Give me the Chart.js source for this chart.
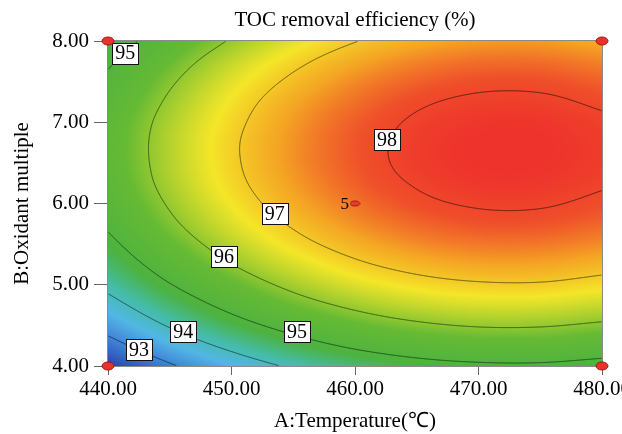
<!DOCTYPE html>
<html><head><meta charset="utf-8">
<script src="https://cdn.jsdelivr.net/npm/chart.js@4"></script>
<style>html,body{margin:0;padding:0;background:#fff}</style>
</head><body>
<canvas id="c" width="622" height="434" style="width:622px;height:434px"></canvas>
<script>
// ---- data ----
const chartTitle = 'TOC removal efficiency (%)';
const temperature = [440, 445, 450, 455, 460, 465, 470, 475, 480];          // A (°C)
const oxidant = [4.00, 4.25, 4.50, 4.75, 5.00, 5.25, 5.50, 5.75, 6.00,
                 6.25, 6.50, 6.75, 7.00, 7.25, 7.50, 7.75, 8.00];           // B
// TOC removal efficiency (%), one row per oxidant value, columns follow temperature
const tocRows = [
  [92.13, 92.91, 93.57, 94.10, 94.49, 94.76, 94.89, 94.90, 94.77],
  [92.73, 93.52, 94.17, 94.70, 95.10, 95.36, 95.49, 95.50, 95.37],
  [93.27, 94.06, 94.72, 95.24, 95.64, 95.90, 96.04, 96.04, 95.91],
  [93.75, 94.54, 95.20, 95.73, 96.12, 96.39, 96.52, 96.52, 96.39],
  [94.18, 94.97, 95.62, 96.15, 96.55, 96.81, 96.94, 96.95, 96.82],
  [94.54, 95.33, 95.99, 96.51, 96.91, 97.17, 97.31, 97.31, 97.18],
  [94.84, 95.63, 96.29, 96.82, 97.21, 97.48, 97.61, 97.61, 97.49],
  [95.09, 95.88, 96.54, 97.06, 97.46, 97.72, 97.86, 97.86, 97.73],
  [95.27, 96.06, 96.72, 97.25, 97.64, 97.91, 98.04, 98.04, 97.91],
  [95.40, 96.19, 96.85, 97.37, 97.77, 98.03, 98.17, 98.17, 98.04],
  [95.46, 96.25, 96.91, 97.44, 97.83, 98.10, 98.23, 98.23, 98.11],
  [95.47, 96.26, 96.92, 97.44, 97.84, 98.10, 98.24, 98.24, 98.11],
  [95.42, 96.21, 96.86, 97.39, 97.79, 98.05, 98.18, 98.19, 98.06],
  [95.30, 96.09, 96.75, 97.28, 97.67, 97.94, 98.07, 98.07, 97.94],
  [95.13, 95.92, 96.58, 97.10, 97.50, 97.76, 97.90, 97.90, 97.77],
  [94.90, 95.69, 96.35, 96.87, 97.27, 97.53, 97.67, 97.67, 97.54],
  [94.61, 95.40, 96.05, 96.58, 96.98, 97.24, 97.37, 97.38, 97.25]
];
const contourLevels = [93, 94, 95, 96, 97, 98];
const labelText = ['93', '94', '95', '95', '96', '97', '98'];
const labelA = [442.5, 446.1, 455.3, 441.4, 449.4, 453.5, 462.6];
const labelB = [4.20, 4.42, 4.42, 7.85, 5.35, 5.88, 6.79];
const designA = [440, 440, 480, 480];
const designB = [4.00, 8.00, 4.00, 8.00];
const centerA = [460];
const centerB = [6.00];
const centerReps = ['5'];
const xTicks = [440, 450, 460, 470, 480];
const yTicks = [4, 5, 6, 7, 8];
const xTitle = 'A:Temperature(\u2103)';
const yTitle = 'B:Oxidant multiple';

// ---- rendering helpers ----
const SERIF = '"Liberation Serif", "Times New Roman", serif';
const nx = temperature.length, ny = oxidant.length;
function g(j, i) {
  if (j < 0) return 2 * g(0, i) - g(1, i);
  if (j >= ny) return 2 * g(ny - 1, i) - g(ny - 2, i);
  if (i < 0) return 2 * g(j, 0) - g(j, 1);
  if (i >= nx) return 2 * g(j, nx - 1) - g(j, nx - 2);
  return tocRows[j][i];
}
const ext = [];
for (let j = -1; j <= ny; j++) { const r = []; for (let i = -1; i <= nx; i++) r.push(g(j, i)); ext.push(r); }
function cr(p0, p1, p2, p3, t) {
  return 0.5 * ((2 * p1) + (-p0 + p2) * t + (2 * p0 - 5 * p1 + 4 * p2 - p3) * t * t + (-p0 + 3 * p1 - 3 * p2 + p3) * t * t * t);
}
function field(a, b) {
  let fx = (a - temperature[0]) / (temperature[nx - 1] - temperature[0]) * (nx - 1);
  let fy = (b - oxidant[0]) / (oxidant[ny - 1] - oxidant[0]) * (ny - 1);
  fx = Math.max(0, Math.min(nx - 1, fx)); fy = Math.max(0, Math.min(ny - 1, fy));
  const ix = Math.min(Math.floor(fx), nx - 2), iy = Math.min(Math.floor(fy), ny - 2);
  const tx = fx - ix, ty = fy - iy;
  const c = [];
  for (let k = 0; k < 4; k++) { const r = ext[iy + k]; c.push(cr(r[ix], r[ix + 1], r[ix + 2], r[ix + 3], tx)); }
  return cr(c[0], c[1], c[2], c[3], ty);
}
let vmin = Infinity, vmax = -Infinity;
tocRows.forEach(r => r.forEach(v => { vmin = Math.min(vmin, v); vmax = Math.max(vmax, v); }));
const stops = [
  [0.000, [40, 64, 170]],
  [0.120, [62, 122, 212]],
  [0.240, [82, 182, 228]],
  [0.340, [68, 188, 168]],
  [0.440, [76, 178, 64]],
  [0.585, [102, 186, 52]],
  [0.750, [244, 230, 40]],
  [0.850, [244, 165, 36]],
  [0.940, [239, 80, 42]],
  [1.000, [238, 50, 44]]
];
function cmap(v) {
  let t = (v - vmin) / (vmax - vmin); t = Math.max(0, Math.min(1, t));
  for (let k = 1; k < stops.length; k++) {
    if (t <= stops[k][0]) {
      const [t0, c0] = stops[k - 1], [t1, c1] = stops[k];
      const u = (t - t0) / (t1 - t0);
      return [0, 1, 2].map(m => c0[m] + (c1[m] - c0[m]) * u);
    }
  }
  return stops[stops.length - 1][1];
}
function ellipseSprite(w, h, fill, stroke) {
  const c = document.createElement('canvas'); c.width = w + 2; c.height = h + 2;
  const q = c.getContext('2d');
  q.beginPath(); q.ellipse((w + 2) / 2, (h + 2) / 2, w / 2, h / 2, 0, 0, Math.PI * 2);
  q.fillStyle = fill; q.fill(); q.strokeStyle = stroke; q.lineWidth = 1; q.stroke();
  return c;
}
const cornerSprite = ellipseSprite(12, 8, '#e8322c', '#a3140f');
const centerSprite = ellipseSprite(9, 5, '#e83a30', '#9a1a12');

const surfacePlugin = {
  id: 'surface',
  beforeDatasetsDraw(chart) {
    const { ctx, chartArea: ca, scales: { x, y } } = chart;
    const L = Math.round(ca.left), T = Math.round(ca.top);
    const W = Math.round(ca.right) - L, H = Math.round(ca.bottom) - T;
    const F = new Float32Array(W * H);
    const img = ctx.createImageData(W, H);
    for (let j = 0; j < H; j++) {
      const b = y.getValueForPixel(T + j + 0.5);
      for (let i = 0; i < W; i++) {
        const a = x.getValueForPixel(L + i + 0.5);
        const v = field(a, b);
        F[j * W + i] = v;
        const c = cmap(v), o = (j * W + i) * 4;
        img.data[o] = c[0]; img.data[o + 1] = c[1]; img.data[o + 2] = c[2]; img.data[o + 3] = 255;
      }
    }
    ctx.putImageData(img, L, T);
    ctx.save();
    ctx.beginPath(); ctx.rect(L, T, W, H); ctx.clip();
    ctx.lineWidth = 1;
    contourLevels.forEach(level => {
      const c = cmap(level);
      ctx.strokeStyle = `rgb(${c[0] * 0.38 | 0},${c[1] * 0.45 | 0},${c[2] * 0.38 | 0})`;
      ctx.beginPath();
      for (let j = 0; j < H - 1; j++) {
        for (let i = 0; i < W - 1; i++) {
          const a = F[j * W + i], b = F[j * W + i + 1], cc = F[(j + 1) * W + i + 1], d = F[(j + 1) * W + i];
          let idx = 0;
          if (a >= level) idx |= 1; if (b >= level) idx |= 2; if (cc >= level) idx |= 4; if (d >= level) idx |= 8;
          if (idx === 0 || idx === 15) continue;
          const x0 = L + i + 0.5, y0 = T + j + 0.5;
          const top = () => [x0 + (level - a) / (b - a), y0];
          const right = () => [x0 + 1, y0 + (level - b) / (cc - b)];
          const bottom = () => [x0 + (level - d) / (cc - d), y0 + 1];
          const left = () => [x0, y0 + (level - a) / (d - a)];
          let segs;
          switch (idx) {
            case 1: case 14: segs = [[left(), top()]]; break;
            case 2: case 13: segs = [[top(), right()]]; break;
            case 3: case 12: segs = [[left(), right()]]; break;
            case 4: case 11: segs = [[right(), bottom()]]; break;
            case 6: case 9: segs = [[top(), bottom()]]; break;
            case 7: case 8: segs = [[left(), bottom()]]; break;
            case 5: segs = [[left(), top()], [right(), bottom()]]; break;
            case 10: segs = [[top(), right()], [left(), bottom()]]; break;
          }
          for (const [p, q] of segs) { ctx.moveTo(p[0], p[1]); ctx.lineTo(q[0], q[1]); }
        }
      }
      ctx.stroke();
    });
    ctx.restore();
    // frame
    ctx.save();
    ctx.strokeStyle = '#8a8a8a'; ctx.lineWidth = 1;
    ctx.strokeRect(L - 0.5, T - 0.5, W + 1, H + 1);
    // contour labels
    ctx.font = '20px ' + SERIF;
    ctx.textAlign = 'center'; ctx.textBaseline = 'middle';
    labelText.forEach((t, k) => {
      const px = x.getPixelForValue(labelA[k]), py = y.getPixelForValue(labelB[k]);
      const w = Math.round(ctx.measureText(t).width) + 6, h = 21;
      const bx = Math.round(px - w / 2) + 0.5, by = Math.round(py - h / 2) + 0.5;
      ctx.fillStyle = '#fff'; ctx.fillRect(bx, by, w, h);
      ctx.strokeStyle = '#111'; ctx.strokeRect(bx, by, w, h);
      ctx.fillStyle = '#000'; ctx.fillText(t, px, py + 1);
    });
    // replicate count beside the centre point
    ctx.font = '17px ' + SERIF; ctx.textAlign = 'right';
    centerReps.forEach((t, k) => {
      ctx.fillText(t, x.getPixelForValue(centerA[k]) - 6, y.getPixelForValue(centerB[k]) + 1);
    });
    ctx.restore();
  },
  afterDraw(chart) {
    const { ctx, chartArea: ca } = chart;
    ctx.save();
    ctx.font = '21px ' + SERIF; ctx.fillStyle = '#000';
    ctx.textAlign = 'center'; ctx.textBaseline = 'middle';
    ctx.fillText(chartTitle, (ca.left + ca.right) / 2, 20);
    ctx.restore();
  }
};

const tickFont = { family: SERIF, size: 21 };
new Chart(document.getElementById('c'), {
  type: 'scatter',
  data: {
    datasets: [
      { data: designA.map((a, k) => ({ x: a, y: designB[k] })), pointStyle: cornerSprite, pointRadius: 5, clip: false },
      { data: centerA.map((a, k) => ({ x: a, y: centerB[k] })), pointStyle: centerSprite, pointRadius: 5, clip: false }
    ]
  },
  options: {
    responsive: false, animation: false, devicePixelRatio: 1,
    layout: { padding: { left: 0, right: 20, top: 41, bottom: 0 } },
    plugins: { legend: { display: false }, tooltip: { enabled: false }, title: { display: false } },
    scales: {
      x: {
        type: 'linear', min: 440, max: 480,
        afterBuildTicks: s => { s.ticks = xTicks.map(v => ({ value: v })); },
        afterFit: s => { s.height = 68; s.paddingLeft = 0; s.paddingRight = 0; },
        ticks: { callback: v => Number(v).toFixed(2), color: '#000', font: tickFont, padding: 2, maxRotation: 0, autoSkip: false },
        grid: { drawOnChartArea: false, drawTicks: true, tickLength: 9, color: '#666' },
        border: { display: false },
        title: { display: true, text: xTitle, color: '#000', font: tickFont, padding: { top: 0, bottom: 0 } }
      },
      y: {
        type: 'linear', min: 4, max: 8,
        afterBuildTicks: s => { s.ticks = yTicks.map(v => ({ value: v })); },
        afterFit: s => { s.width = 108; s.paddingTop = 0; s.paddingBottom = 0; },
        ticks: { callback: v => Number(v).toFixed(2), color: '#000', font: tickFont, padding: 5, autoSkip: false },
        grid: { drawOnChartArea: false, drawTicks: true, tickLength: 14, color: '#666' },
        border: { display: false },
        title: { display: true, text: yTitle, color: '#000', font: tickFont, padding: { top: 10, bottom: 0 } }
      }
    }
  },
  plugins: [surfacePlugin]
});
</script>
</body></html>
